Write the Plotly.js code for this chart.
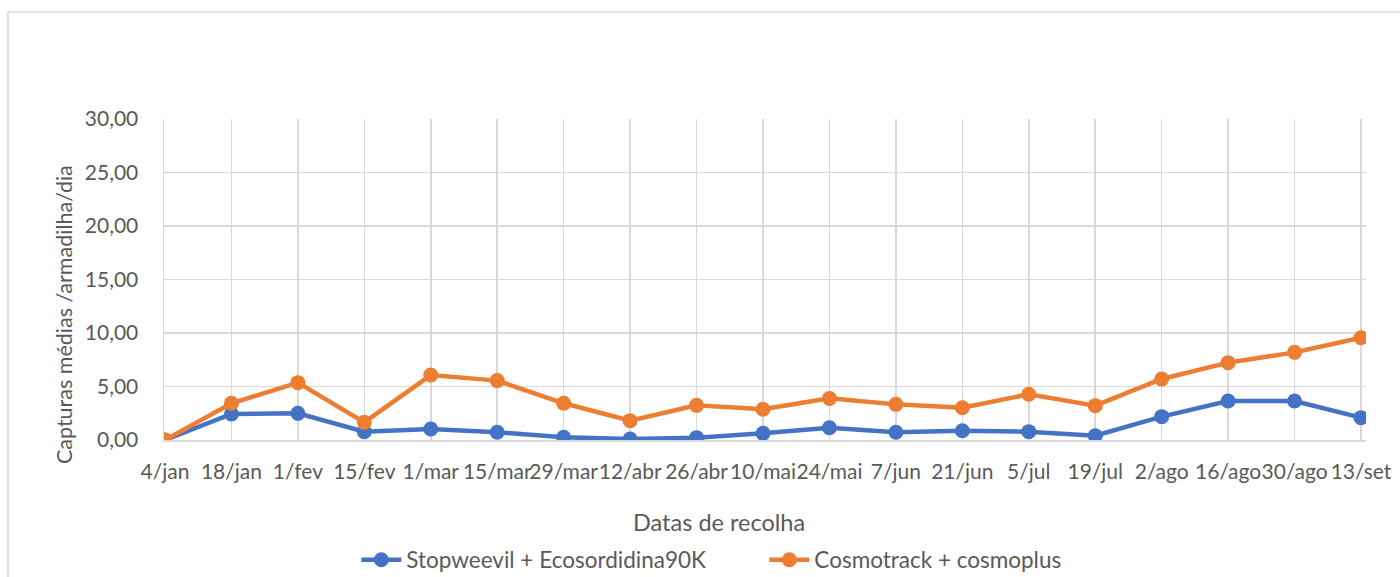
<!DOCTYPE html>
<html>
<head>
<meta charset="utf-8">
<script src="https://cdn.plot.ly/plotly-3.0.1.min.js"></script>
<style>
html,body{margin:0;padding:0;background:#fff;}
#chart{width:1400px;height:577px;}
</style>
</head>
<body>
<div id="chart"></div>
<script>
const categories = ["4/jan","18/jan","1/fev","15/fev","1/mar","15/mar","29/mar","12/abr","26/abr","10/mai","24/mai","7/jun","21/jun","5/jul","19/jul","2/ago","16/ago","30/ago","13/set"];
const stopweevil = [0.00,2.43,2.49,0.78,1.03,0.72,0.25,0.09,0.22,0.62,1.15,0.72,0.87,0.78,0.40,2.18,3.64,3.64,2.09];
const cosmotrack = [0.00,3.43,5.36,1.65,6.07,5.55,3.43,1.81,3.24,2.87,3.89,3.33,3.02,4.27,3.21,5.70,7.23,8.19,9.56];
const seriesNames = ["Stopweevil + Ecosordidina90K","Cosmotrack + cosmoplus"];
const yTickVals = [0,5,10,15,20,25,30];
const yTitle = "Capturas médias /armadilha/dia";
const xTitle = "Datas de recolha";

const FONT = "Lato, 'Open Sans', sans-serif";
const TXT = "#595959";
const GRID = "#d9d9d9";

const traces = [
  {x: categories, y: stopweevil, name: seriesNames[0], type: "scatter", mode: "lines+markers",
   line: {color: "#4472C4", width: 4.5}, marker: {color: "#4472C4", size: 15}},
  {x: categories, y: cosmotrack, name: seriesNames[1], type: "scatter", mode: "lines+markers",
   line: {color: "#ED7D31", width: 4.5}, marker: {color: "#ED7D31", size: 15}}
];

const layout = {
  width: 1400, height: 577,
  margin: {l: 164, r: 34, t: 119, b: 137, autoexpand: false},
  paper_bgcolor: "#fff", plot_bgcolor: "#fff",
  font: {family: FONT, size: 21, color: TXT},
  separators: ", ",
  showlegend: true,
  legend: {orientation: "h", x: 0.16, y: -0.374, xanchor: "left", yanchor: "middle",
           entrywidth: 353, entrywidthmode: "pixels",
           font: {family: FONT, size: 22.5, color: TXT}, itemwidth: 40, traceorder: "normal"},
  xaxis: {type: "category", range: [-0.015, 18.075], showgrid: true, gridcolor: GRID, gridwidth: 1.5,
          showline: true, linecolor: GRID, linewidth: 1.5, zeroline: false, tickangle: 0,
          ticks: "", ticklabelstandoff: 12, tickfont: {family: FONT, size: 21, color: TXT}},
  yaxis: {range: [0, 30], tickvals: yTickVals, tickformat: ".2f", showgrid: true,
          gridcolor: GRID, gridwidth: 1.5, showline: true, linecolor: GRID, linewidth: 1.5, zeroline: false,
          ticks: "", ticklabelstandoff: 20, tickfont: {family: FONT, size: 21, color: TXT}},
  annotations: [
    {text: yTitle, xref: "paper", yref: "paper", x: -0.083, y: 0.39, xanchor: "center", yanchor: "middle",
     textangle: -90, showarrow: false, font: {family: FONT, size: 21.5, color: TXT}},
    {text: xTitle, xref: "paper", yref: "paper", x: 0.462, y: -0.255, xanchor: "center", yanchor: "middle",
     showarrow: false, font: {family: FONT, size: 23.5, color: TXT}}
  ],
  shapes: [
    {type: "rect", xref: "paper", yref: "paper", x0: -0.1298, y0: 1.333, x1: 1.2, y1: -0.6,
     line: {color: GRID, width: 1.5}, fillcolor: "rgba(0,0,0,0)", layer: "below"}
  ]
};

Plotly.newPlot("chart", traces, layout, {displayModeBar: false, staticPlot: true});
</script>
</body>
</html>
